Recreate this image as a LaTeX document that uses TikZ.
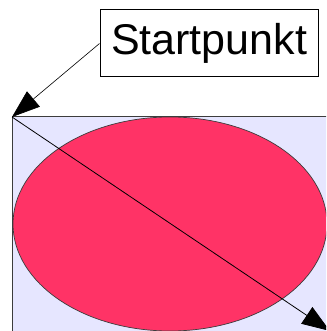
\documentclass[tikz,border=0pt]{standalone}
\usepackage{fontspec}
\setmainfont{Liberation Sans}
\usepackage{xcolor}
\definecolor{stlavender}{RGB}{230,230,255}
\definecolor{stpink}{RGB}{255,51,102}
\definecolor{stframe}{RGB}{60,60,60}
\usetikzlibrary{arrows.meta}
\tikzset{
  bigtip/.style={-{Triangle[length=28pt,width=20pt]}},
  labelbox/.style={draw=black,line width=1pt,fill=white,minimum width=218pt,minimum height=67pt,inner sep=0pt,font=\fontsize{43}{50}\selectfont}
}

\begin{document}
\begin{tikzpicture}[x=1pt,y=-1pt]
\useasboundingbox (0,0) rectangle (326,331);
\clip (0,0) rectangle (326,331);
% ---- FLAECHE MIT ELLIPSE ----
\draw[fill=stlavender,draw=stframe,line width=1pt] (12,117) rectangle (345,350);
\draw[fill=stpink,draw=stframe,line width=0.7pt] (170,224) ellipse (157 and 107);
\coordinate (corner) at (12,117);
\coordinate (ende) at (330,331);
% ---- DIAGONALE ----
\draw[bigtip,line width=0.8pt] (corner) -- (ende);
% ---- BESCHRIFTUNG ----
\node[labelbox] (start) at (209,43.5) {Startpunkt};
\draw[bigtip,line width=0.6pt] (start.west) -- (corner);
\end{tikzpicture}
\end{document}
